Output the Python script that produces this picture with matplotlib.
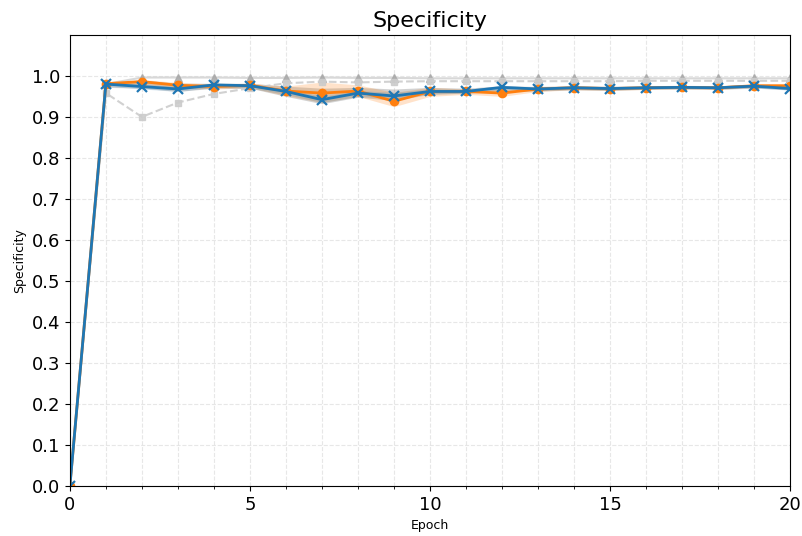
import matplotlib
matplotlib.use("Agg")
import matplotlib.pyplot as plt
import numpy as np

epochs = list(range(0, 21))
blue = [0.0, 0.980, 0.974, 0.968, 0.978, 0.976, 0.962, 0.942, 0.958, 0.951, 0.962,
        0.962, 0.972, 0.968, 0.971, 0.969, 0.971, 0.972, 0.971, 0.975, 0.969]
blue_lo = [0.0, 0.975, 0.968, 0.962, 0.972, 0.970, 0.955, 0.935, 0.950, 0.945, 0.956,
           0.957, 0.967, 0.964, 0.967, 0.965, 0.968, 0.969, 0.968, 0.971, 0.965]
blue_hi = [0.0, 0.984, 0.980, 0.974, 0.982, 0.980, 0.968, 0.950, 0.964, 0.960, 0.968,
           0.967, 0.976, 0.972, 0.975, 0.973, 0.975, 0.975, 0.975, 0.978, 0.973]
orange = [0.0, 0.981, 0.986, 0.977, 0.974, 0.977, 0.963, 0.958, 0.963, 0.938, 0.962,
          0.962, 0.958, 0.968, 0.971, 0.969, 0.971, 0.972, 0.971, 0.976, 0.976]
orange_lo = [0.0, 0.976, 0.980, 0.970, 0.968, 0.971, 0.952, 0.935, 0.950, 0.925, 0.950,
             0.955, 0.950, 0.962, 0.966, 0.964, 0.967, 0.968, 0.967, 0.972, 0.972]
orange_hi = [0.0, 0.985, 0.991, 0.984, 0.980, 0.982, 0.975, 0.985, 0.978, 0.960, 0.972,
             0.968, 0.966, 0.974, 0.976, 0.974, 0.975, 0.976, 0.975, 0.980, 0.980]
gray_dash = [0.0, 0.958, 0.900, 0.935, 0.956, 0.970, 0.982, 0.986, 0.984, 0.986, 0.987,
             0.987, 0.987, 0.987, 0.987, 0.987, 0.988, 0.988, 0.988, 0.988, 0.988]
gray_top = [0.0, 0.980, 0.996, 0.996, 0.996, 0.995, 0.995, 0.996, 0.995, 0.995, 0.994,
            0.994, 0.994, 0.994, 0.994, 0.994, 0.994, 0.994, 0.994, 0.994, 0.994]
gray_lo = [0.0, 0.972, 0.970, 0.962, 0.970, 0.970, 0.950, 0.932, 0.948, 0.940, 0.955,
           0.958, 0.962, 0.963, 0.966, 0.965, 0.967, 0.968, 0.967, 0.970, 0.966]
gray_hi = [0.0, 0.985, 0.990, 0.982, 0.982, 0.982, 0.975, 0.970, 0.972, 0.968, 0.972,
           0.970, 0.976, 0.974, 0.976, 0.975, 0.976, 0.977, 0.976, 0.979, 0.978]

fig = plt.figure(figsize=(8.03, 5.36), dpi=100)
ax = fig.add_axes([0.087, 0.093, 0.897, 0.842])

ax.fill_between(epochs, gray_lo, gray_hi, color="gray", alpha=0.35, linewidth=0)
ax.plot(epochs, gray_top, color="#cfcfcf", linewidth=1.5, alpha=0.8)
ax.plot(epochs, gray_top, color="#a8a8a8", marker="^", markersize=6, linestyle="none", alpha=0.85)
ax.plot(epochs, gray_dash, color="#cccccc", marker="s", markersize=4.5, linewidth=1.5,
        linestyle="--", alpha=0.9)
ax.fill_between(epochs, orange_lo, orange_hi, color="#ff7f0e", alpha=0.22, linewidth=0)
ax.fill_between(epochs, blue_lo, blue_hi, color="#1f77b4", alpha=0.18, linewidth=0)
ax.plot(epochs, orange, color="#ff7f0e", marker="o", markersize=6, linewidth=2)
ax.plot(epochs, blue, color="#1f77b4", marker="x", markersize=6.5, markeredgewidth=1.6, linewidth=2)

ax.set_xlim(0, 20)
ax.set_ylim(0, 1.1)
ax.set_xticks([0, 5, 10, 15, 20])
ax.set_xticks(range(0, 21), minor=True)
ax.set_yticks(np.round(np.arange(0, 1.01, 0.1), 1))
ax.tick_params(axis="both", which="major", labelsize=13)
ax.grid(True, which="both", linestyle="--", color="#dddddd", alpha=0.7)
ax.set_axisbelow(True)
ax.set_title("Specificity", fontsize=16)
ax.set_xlabel("Epoch", fontsize=9)
ax.set_ylabel("Specificity", fontsize=9)

fig.savefig("out.png", dpi=100)
